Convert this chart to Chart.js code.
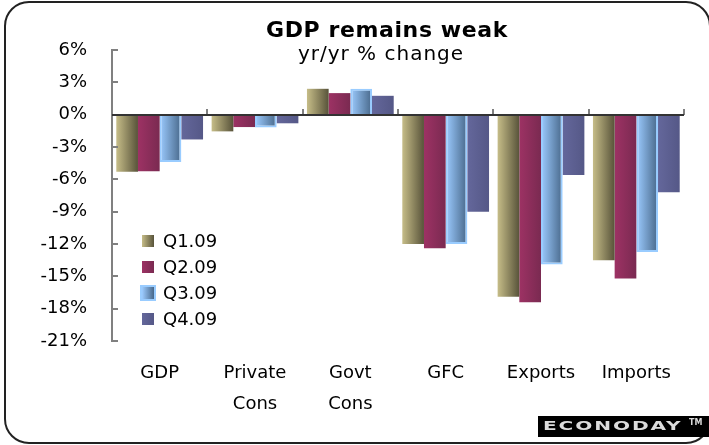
<!DOCTYPE html>
<html>
<head>
<meta charset="utf-8">
<script src="https://cdn.jsdelivr.net/npm/chart.js@4/dist/chart.umd.min.js"></script>
<style>
  html, body { margin: 0; padding: 0; background: #fff; }
  canvas { display: block; }
</style>
</head>
<body>
<canvas id="myChart" width="709" height="445"></canvas>
<script>
// data
const categories = [['GDP'], ['Private', 'Cons'], ['Govt', 'Cons'], ['GFC'], ['Exports'], ['Imports']];
const seriesNames = ['Q1.09', 'Q2.09', 'Q3.09', 'Q4.09'];
const q1 = [-5.3, -1.55, 2.4, -12.0, -16.9, -13.5];
const q2 = [-5.25, -1.15, 2.0, -12.4, -17.4, -15.2];
const q3 = [-4.4, -1.2, 2.4, -12.0, -13.9, -12.75];
const q4 = [-2.3, -0.8, 1.75, -9.0, -5.6, -7.2];
const yTicks = [-21, -18, -15, -12, -9, -6, -3, 0, 3, 6];

// left/right colours of each bar gradient
const shades = [
  ['#c6bd88', '#58533a'],
  ['#9d3264', '#7a2a51'],
  ['#9ccbff', '#48688a'],
  ['#64679b', '#555887']
];

const font = 'DejaVu Sans';

function grad(ctx, x0, x1, i) {
  const g = ctx.createLinearGradient(x0, 0, x1, 0);
  g.addColorStop(0, shades[i][0]);
  g.addColorStop(1, shades[i][1]);
  return g;
}

// paint each bar with a left-to-right gradient
const barShading = {
  id: 'barShading',
  beforeDatasetsDraw(chart) {
    const { ctx } = chart;
    chart.data.datasets.forEach((ds, i) => {
      chart.getDatasetMeta(i).data.forEach(el => {
        const b = el.getProps(['x', 'width'], true);
        el.options.backgroundColor = grad(ctx, b.x - b.width / 2, b.x + b.width / 2, i);
      });
    });
  }
};

// frame, titles, zero line, ticks, legend and logo
const decorations = {
  id: 'decorations',
  beforeDraw(chart) {
    const { ctx } = chart;
    ctx.save();
    ctx.strokeStyle = '#222';
    ctx.lineWidth = 2;
    ctx.beginPath();
    ctx.roundRect(5, 2, 705, 441, 24);
    ctx.stroke();
    ctx.restore();
  },
  afterDatasetsDraw(chart) {
    const { ctx, chartArea: a } = chart;
    const y = chart.scales.y;
    ctx.save();
    // y axis tick marks (inside)
    ctx.strokeStyle = '#808080';
    ctx.lineWidth = 2;
    yTicks.forEach(v => {
      const py = Math.round(y.getPixelForValue(v));
      ctx.beginPath();
      ctx.moveTo(a.left, py);
      ctx.lineTo(a.left + 6, py);
      ctx.stroke();
    });
    // zero line with category tick marks
    const y0 = Math.round(y.getPixelForValue(0));
    const step = (a.right - a.left) / categories.length;
    for (let i = 1; i <= categories.length; i++) {
      const px = Math.round(a.left + i * step);
      ctx.beginPath();
      ctx.moveTo(px, y0);
      ctx.lineTo(px, y0 - 6);
      ctx.stroke();
    }
    ctx.strokeStyle = '#333';
    ctx.beginPath();
    ctx.moveTo(a.left, y0);
    ctx.lineTo(a.right, y0);
    ctx.stroke();

    // titles
    ctx.fillStyle = '#000';
    ctx.textAlign = 'center';
    ctx.textBaseline = 'alphabetic';
    ctx.font = 'bold 22px "' + font + '"';
    ctx.letterSpacing = '0.6px';
    ctx.fillText('GDP remains weak', 387, 37);
    ctx.font = '20px "' + font + '"';
    ctx.letterSpacing = '1px';
    ctx.fillText('yr/yr % change', 381, 60);
    ctx.letterSpacing = '0px';

    // legend
    ctx.textAlign = 'left';
    ctx.textBaseline = 'middle';
    ctx.font = '18px "' + font + '"';
    seriesNames.forEach((name, i) => {
      const cy = 241 + i * 26;
      if (i === 2) {
        ctx.fillStyle = '#99ccff';
        ctx.fillRect(140, cy - 8, 16, 16);
      }
      ctx.fillStyle = grad(ctx, 142, 154, i);
      ctx.fillRect(142, cy - 6, 12, 12);
      ctx.fillStyle = '#000';
      ctx.fillText(name, 163, cy + 1);
    });

    // logo: wide blocky lettering
    ctx.fillStyle = '#000';
    ctx.fillRect(538, 416, 171, 21);
    ctx.fillStyle = '#dcdcdc';
    ctx.save();
    ctx.translate(543, 427);
    ctx.scale(1.55, 1);
    ctx.font = 'bold 13px "' + font + '"';
    ctx.letterSpacing = '1.2px';
    ctx.fillText('ECONODAY', 0, 0);
    ctx.restore();
    ctx.font = 'bold 8px "' + font + '"';
    ctx.fillText('TM', 689, 423);
    ctx.restore();
  }
};

const ctx = document.getElementById('myChart');

const datas = {
  labels: categories,
  datasets: [q1, q2, q3, q4].map((vals, i) => ({
    label: seriesNames[i],
    data: vals,
    backgroundColor: () => shades[i][0],
    borderColor: '#99ccff',
    borderWidth: i === 2 ? 2 : 0,
    borderSkipped: 'start',
    categoryPercentage: 0.91,
    barPercentage: 1
  }))
};

const config = {
  type: 'bar',
  data: datas,
  options: {
    responsive: false,
    animation: false,
    layout: { padding: { top: 50, right: 25, bottom: 0, left: 0 } },
    plugins: {
      legend: { display: false },
      tooltip: { enabled: false }
    },
    scales: {
      x: {
        grid: { display: false },
        border: { display: false },
        ticks: {
          color: '#000',
          padding: 9,
          maxRotation: 0,
          autoSkip: false,
          font: { family: font, size: 18, lineHeight: 1.72 }
        },
        afterFit(scale) { scale.height = 104; }
      },
      y: {
        min: -21,
        max: 6,
        grid: { display: false },
        border: { display: true, color: '#808080', width: 2 },
        ticks: {
          stepSize: 3,
          color: '#000',
          padding: 17,
          font: { family: font, size: 18 },
          callback: v => v + '%'
        },
        afterFit(scale) { scale.width = 112; }
      }
    }
  },
  plugins: [barShading, decorations]
};

const myChart = new Chart(ctx, config);
</script>
</body>
</html>
